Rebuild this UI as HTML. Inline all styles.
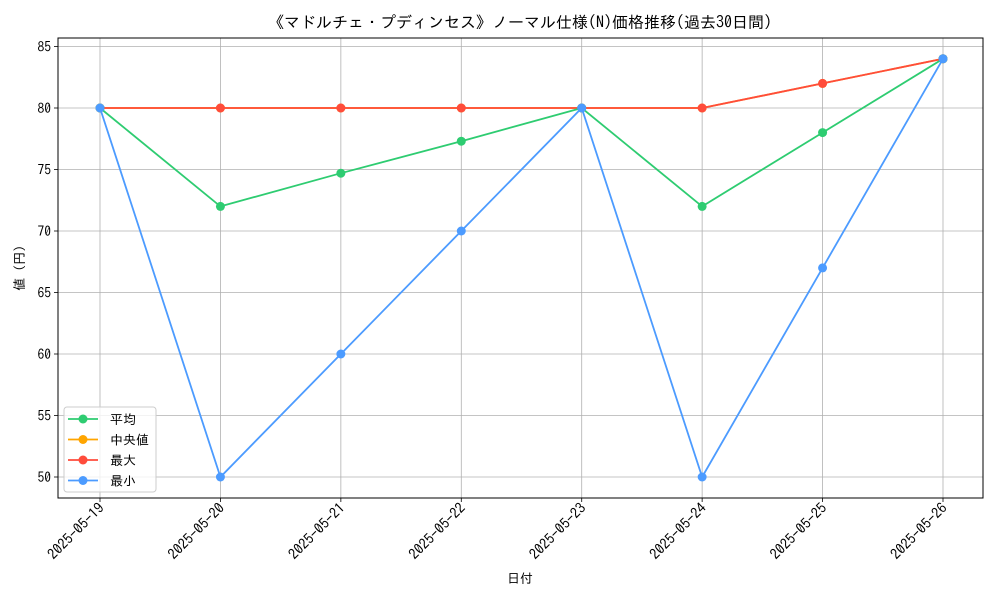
<!DOCTYPE html>
<html><head><meta charset="utf-8">
<style>
body{margin:0;background:#fff;}
svg text{font-family:"IPAGothic","Liberation Sans","Noto Sans CJK JP",sans-serif;fill:#000;}
</style></head>
<body>
<svg id="chart" width="1000" height="600" viewBox="0 0 1000 600">
<rect x="0" y="0" width="1000" height="600" fill="#fff"/>
<text x="520" y="28" text-anchor="middle" font-size="16">《マドルチェ・プディンセス》ノーマル仕様(N)価格推移(過去30日間)</text>
<g id="grid"></g>
<g id="axes"></g>
<g id="series"></g>
<text x="520" y="583" text-anchor="middle" font-size="13">日付</text>
<text transform="translate(24,268) rotate(-90)" text-anchor="middle" font-size="13">値 (円)</text>
<g id="legend"></g>
</svg>
<script>
const categories=["2025-05-19","2025-05-20","2025-05-21","2025-05-22","2025-05-23","2025-05-24","2025-05-25","2025-05-26"];
const avgValues=[80,72,74.7,77.3,80,72,78,84];
const medianValues=[80,80,80,80,80,80,82,84];
const maxValues=[80,80,80,80,80,80,82,84];
const minValues=[80,50,60,70,80,50,67,84];
const yTicks=[50,55,60,65,70,75,80,85];
const seriesNames=["平均","中央値","最大","最小"];
const seriesColors=["#2ecc71","#ffa500","#ff4c3b","#4c9bff"];

const NS="http://www.w3.org/2000/svg";
const L=58,R=983,T=38,B=498;
const x0=100,x1=943;
function xs(i){return x0+(x1-x0)*i/(categories.length-1);}
function ys(v){return 477+(50-v)*(477-108)/30;}
function mk(tag,attrs,parent){const e=document.createElementNS(NS,tag);for(const k in attrs)e.setAttribute(k,attrs[k]);parent.appendChild(e);return e;}
const grid=document.getElementById('grid'),axes=document.getElementById('axes'),ser=document.getElementById('series'),leg=document.getElementById('legend');
categories.forEach((c,i)=>{
  const g=mk('line',{x1:xs(i),x2:xs(i),y1:T,y2:B,stroke:'#b0b0b0','stroke-width':0.8},grid);
  
  
  const t=mk('line',{x1:xs(i),x2:xs(i),y1:B,y2:B+4,stroke:'#000','stroke-width':0.8},axes);
  
  
  const lb=mk('text',{transform:`translate(${xs(i)+5},${B+11}) rotate(-45)`,'text-anchor':'end','font-size':14.5},axes);
  lb.textContent=c;
  
  
});
yTicks.forEach(v=>{
  const g=mk('line',{x1:L,x2:R,y1:ys(v),y2:ys(v),stroke:'#b0b0b0','stroke-width':0.8},grid);
  
  
  const t=mk('line',{x1:L-4,x2:L,y1:ys(v),y2:ys(v),stroke:'#000','stroke-width':0.8},axes);
  
  
  const lb=mk('text',{x:L-7,y:ys(v)+5,'text-anchor':'end','font-size':13.5},axes);
  lb.textContent=v;
  
  
});
const frame=mk('rect',{x:L,y:T,width:R-L,height:B-T,fill:'none',stroke:'#000','stroke-width':1},axes);


const allSeries=[avgValues,medianValues,maxValues,minValues];
const order=[1,2,0,3];
order.forEach(si=>{
  const vals=allSeries[si],col=seriesColors[si];
  const g=mk('g',{},ser);
  
  
  const p=mk('polyline',{points:vals.map((v,i)=>xs(i)+','+ys(v)).join(' '),fill:'none',stroke:col,'stroke-width':1.8},g);
  
  
  vals.forEach((v,i)=>{
    const c=mk('circle',{cx:xs(i),cy:ys(v),r:4.5,fill:col},g);
    
    
  });
});
const lbox=mk('rect',{x:64,y:407,width:92,height:85,rx:3,fill:'#fff','fill-opacity':0.8,stroke:'#ccc'},leg);


seriesNames.forEach((n,i)=>{
  const y=419+i*20.5;
  const g=mk('g',{},leg);
  
  
  mk('line',{x1:68,x2:98,y1:y,y2:y,stroke:seriesColors[i],'stroke-width':1.8},g);
  mk('circle',{cx:83,cy:y,r:4.5,fill:seriesColors[i]},g);
  const t=mk('text',{x:110,y:y+5,'font-size':13},g);
  t.textContent=n;
});
</script>
</body></html>
